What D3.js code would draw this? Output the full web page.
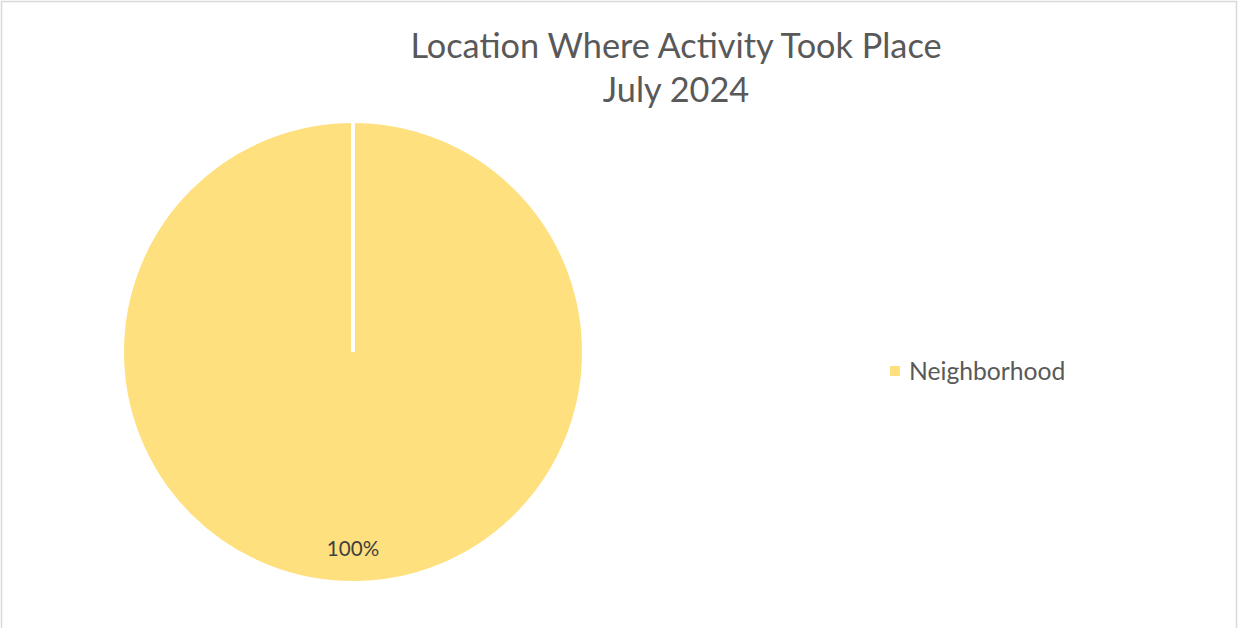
<!DOCTYPE html>
<html>
<head>
<meta charset="utf-8">
<script src="https://cdn.jsdelivr.net/npm/d3@7"></script>
<style>
  html, body { margin: 0; padding: 0; background: #fff; }
  svg { display: block; }
</style>
</head>
<body>
<svg id="chart" width="1238" height="628"></svg>
<script>
// data
const categories = ["Neighborhood"];
const values = [1];
const title_lines = ["Location Where Activity Took Place", "July 2024"];

const width = 1238, height = 628;
const font = "Lato, 'Open Sans', sans-serif";
const text_color = "#595959";
const slice_color = "#FFE07F";

const svg = d3.select("#chart");

// chart area border
svg.append("rect")
  .attr("x", 1.5).attr("y", 1.5)
  .attr("width", 1235).attr("height", 660)
  .attr("fill", "#fff")
  .attr("stroke", "#d9d9d9")
  .attr("stroke-width", 1.5);

// ===============================================================
// Title
svg.append("g")
  .selectAll("text")
  .data(title_lines)
  .join("text")
    .attr("x", 676)
    .attr("y", (d, i) => 58 + i * 44)
    .attr("text-anchor", "middle")
    .attr("fill", text_color)
    .style("font-family", font)
    .style("font-size", "34.3px")
    .text(d => d);

// ===============================================================
// Pie
const cx = 353, cy = 352, r = 231;
const color = d3.scaleOrdinal().domain(categories).range([slice_color]);

const pie = d3.pie().sort(null).value(d => d.value);
const arcs = pie(categories.map((c, i) => ({name: c, value: values[i]})));

const arc = d3.arc().innerRadius(0).outerRadius(r);
const label_arc = d3.arc().innerRadius(r * 0.72).outerRadius(r * 0.98);

const pie_g = svg.append("g").attr("transform", `translate(${cx},${cy})`);

pie_g.selectAll("path")
  .data(arcs)
  .join("path")
    .attr("d", arc)
    .attr("fill", d => color(d.data.name))
    .attr("stroke", "#fff")
    .attr("stroke-width", 4);

// slice edges (a full circle path has no radial edge, so draw it)
pie_g.selectAll("line.edge")
  .data(arcs)
  .join("line")
    .attr("class", "edge")
    .attr("x1", 0).attr("y1", 0)
    .attr("x2", d => r * Math.sin(d.startAngle))
    .attr("y2", d => -r * Math.cos(d.startAngle))
    .attr("stroke", "#fff")
    .attr("stroke-width", 4);

const total = d3.sum(values);
pie_g.selectAll("text")
  .data(arcs)
  .join("text")
    .attr("transform", d => `translate(${label_arc.centroid(d)})`)
    .attr("dy", "0.35em")
    .attr("text-anchor", "middle")
    .attr("fill", "#404040")
    .style("font-family", font)
    .style("font-size", "20.6px")
    .text(d => d3.format(".0%")(d.data.value / total));

// ===============================================================
// Legend
const legend = svg.append("g").attr("transform", "translate(890,366)");
const items = legend.selectAll("g")
  .data(categories)
  .join("g")
    .attr("transform", (d, i) => `translate(0,${i * 28})`);

items.append("rect")
  .attr("width", 10).attr("height", 10)
  .attr("fill", d => color(d));

items.append("text")
  .attr("x", 19)
  .attr("y", 5)
  .attr("dy", "0.35em")
  .attr("fill", text_color)
  .style("font-family", font)
  .style("font-size", "24.7px")
  .text(d => d);
</script>
</body>
</html>
